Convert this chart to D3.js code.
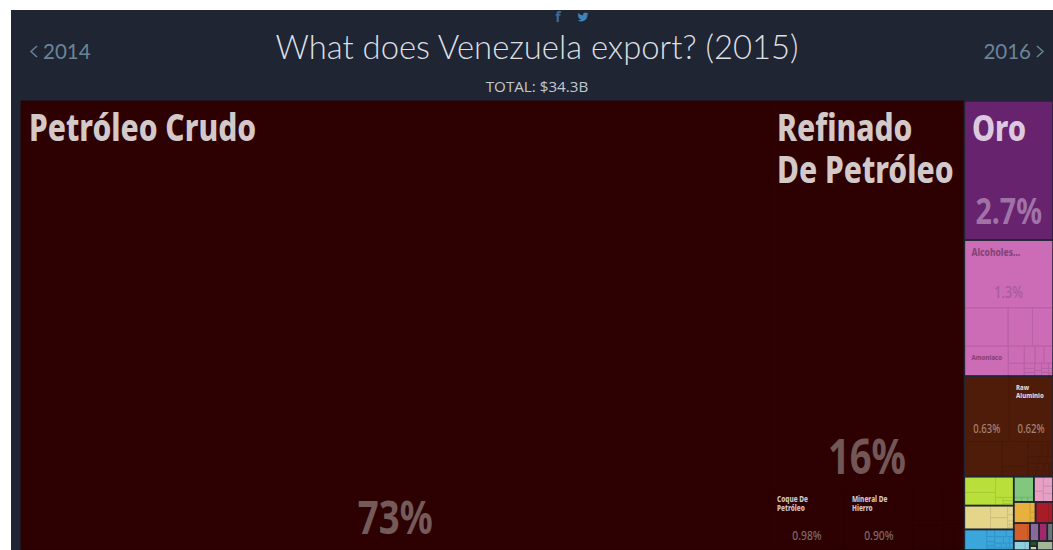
<!DOCTYPE html>
<html>
<head>
<meta charset="utf-8">
<title>What does Venezuela export? (2015)</title>
<script src="https://cdn.jsdelivr.net/npm/d3@7"></script>
<style>
  html, body { margin: 0; padding: 0; background: #fff; overflow: hidden; }
  svg { display: block; }
</style>
</head>
<body>
<svg id="chart" width="1053" height="550"></svg>
<script>
// Share of total exports, percent, one small list per product family.
const crudeShare = 72.6;
const refinedShare = 16.35;
const coalRow = [0.98, 0.90];
const coalRest = [[0.23, 0.16], [0.16, [0.06, 0.06]]];
const goldShare = 2.66;
const chemTop = 1.3;
const chemRow = [0.36, 0.20, 0.17];
const ammonia = 0.285;
const chemSmallTop = [0.059, 0.04, 0.033, 0.033];
const chemSmallLeft = 0.045;
const chemGrid = [[0.012, 0.010, 0.008], [0.011, 0.008], [0.008, 0.006, 0.006], [0.005, 0.004, 0.003]];
const metalTop = [0.63, 0.62];
const metalLeft = 0.287;
const metalMid = [0.14, 0.056];
const metalSmall = [0.045, 0.019, 0.016];
const metalGrid = [[0.016, 0.012, 0.009], [0.014, 0.010, 0.008, 0.006], [0.010, 0.008, 0.006, 0.005, 0.004]];
const limeLeft = [0.107, 0.087];
const limeRight = 0.082;
const limeTiny = [0.0136, [0.008, 0.006, 0.005]];
const khakiLeft = 0.135;
const khakiMid = [0.045, 0.043];
const khakiTiny = [0.012, 0.008, 0.005, 0.003, 0.003];
const blueLeft = 0.10;
const blueStack = [0.012, 0.009, 0.007, 0.004, 0.003];
const blueGrid = [[0.018, 0.012], [0.012, 0.008, 0.006], [0.007, 0.005, 0.004, 0.004], [0.002, 0.002, 0.002, 0.002]];
const greenParts = [0.09, [0.008, 0.006, 0.006]];
const pinkParts = [[0.03, 0.022], [0.02, 0.015, 0.018]];
const orangeParts = [0.075, [0.012, 0.007, 0.004, 0.002]];
const redParts = [0.06, 0.02];
const rustParts = [0.055, 0.008];
const smallRow = [0.035, 0.032, 0.022];
const paleParts = [0.022, 0.009];
const tinyStack = [0.008, 0.006];
const sageShare = 0.031;

const productNames = {
  crude: "Petróleo Crudo", refined: "Refinado De Petróleo", coke: "Coque De Petróleo",
  iron: "Mineral De Hierro", gold: "Oro", alcohols: "Alcoholes...", ammonia: "Amoniaco",
  rawAl: "Raw Aluminio"
};

const colors = {
  oil: "#2d0102", gold: "#67236e", chem: "#cc6cb6", metal: "#501c0a", lime: "#b9e03a",
  khaki: "#e5d58b", blue: "#3aa6dc", green: "#82c77e", pink: "#e6a0c4", orange: "#e8b03c",
  red: "#a81c28", rust: "#d25f2a", purple: "#8a6a9a", magenta: "#a3286a", grey: "#6d7478",
  pale: "#8fd0dc", forest: "#1c5a1c", beige: "#d8d0a0", sage: "#a3b796"
};

// Tree helpers: H lays children left to right, V top to bottom; nested lists alternate.
const wrap = (d, dir) => typeof d === "number" ? { value: d }
  : Array.isArray(d) ? { dir, children: d.map(k => wrap(k, dir === "h" ? "v" : "h")) } : d;
const H = (...kids) => ({ dir: "h", children: kids.map(k => wrap(k, "v")) });
const V = (...kids) => ({ dir: "v", children: kids.map(k => wrap(k, "h")) });
const P = (name, value) => ({ name, value });
const C = (color, node) => Object.assign(typeof node === "number" ? { value: node } : node, { color });

const tree = H(
  C(colors.oil, P("crude", crudeShare)),
  Object.assign(V(
    P("refined", refinedShare),
    H(P("coke", coalRow[0]), P("iron", coalRow[1]), H(V(...coalRest[0]), V(coalRest[1][0], H(...coalRest[1][1]))))
  ), { color: colors.oil, quiet: true }),
  V(
    C(colors.gold, H(P("gold", goldShare))),
    C(colors.chem, V(
      P("alcohols", chemTop),
      H(...chemRow),
      H(P("ammonia", ammonia), V(H(...chemSmallTop), H(chemSmallLeft, H(...chemGrid.map(c => V(...c))))))
    )),
    C(colors.metal, V(
      H(metalTop[0], P("rawAl", metalTop[1])),
      H(metalLeft, V(...metalMid), V(H(...metalSmall), V(...metalGrid.map(r => H(...r)))))
    )),
    H(
      V(
        C(colors.lime, H(V(...limeLeft), V(limeRight, H(limeTiny[0], V(...limeTiny[1]))))),
        C(colors.khaki, H(khakiLeft, V(...khakiMid), V(...khakiTiny))),
        C(colors.blue, H(blueLeft, V(...blueStack), V(...blueGrid.map(r => H(...r)))))
      ),
      V(
        H(C(colors.green, V(greenParts[0], H(...greenParts[1]))), C(colors.pink, H(V(...pinkParts[0]), V(...pinkParts[1])))),
        H(C(colors.orange, H(orangeParts[0], V(...orangeParts[1]))), C(colors.red, H(...redParts))),
        H(C(colors.rust, H(...rustParts)), C(colors.purple, smallRow[0]), C(colors.magenta, smallRow[1]), C(colors.grey, smallRow[2])),
        H(C(colors.pale, H(...paleParts)), V(C(colors.forest, tinyStack[0]), C(colors.beige, tinyStack[1])), C(colors.sage, sageShare))
      )
    )
  )
);

const svg = d3.select("#chart");
const NAVY = "#1f2533";
const MAP = { x: 21, y: 101, w: 1032, h: 449 };

// Page band behind the heading
svg.append("rect").attr("x", 11).attr("y", 10).attr("width", 1042).attr("height", 540).attr("fill", NAVY);

const root = d3.hierarchy(tree).sum(d => d.children ? 0 : d.value);
d3.treemap()
  .size([MAP.w, MAP.h])
  .tile((n, x0, y0, x1, y1) => (n.data.dir === "v" ? d3.treemapSlice : d3.treemapDice)(n, x0, y0, x1, y1))(root);

const colorOf = n => { for (let a = n; a; a = a.parent) if (a.data.color) return a.data.color; return colors.oil; };
const map = svg.append("g").attr("transform", `translate(${MAP.x},${MAP.y})`);

// Cell edges are an opaque shade of their own fill
map.selectAll("rect.cell").data(root.leaves()).join("rect")
  .attr("class", "cell")
  .attr("x", d => d.x0).attr("y", d => d.y0)
  .attr("width", d => d.x1 - d.x0).attr("height", d => d.y1 - d.y0)
  .attr("fill", colorOf)
  .attr("stroke", d => d3.interpolateRgb(colorOf(d), "#000")(0.1)).attr("stroke-width", 0.8);

// Family outlines separate the coloured blocks
const families = root.descendants().filter(d => d.data.color && !d.data.quiet && d.data.color !== colors.oil);
map.selectAll("rect.family").data(families).join("rect")
  .attr("class", "family")
  .attr("x", d => d.x0).attr("y", d => d.y0)
  .attr("width", d => d.x1 - d.x0).attr("height", d => d.y1 - d.y0)
  .attr("fill", "none").attr("stroke", NAVY).attr("stroke-width", 1.5);

// Label styles per product: name size, share size and where they sit in the cell
const labelStyle = {
  crude:    { size: 37, lh: 42, dx: 8, dy: 40, pct: 46, pb: 16, col: "#d2c9c8", pcol: "#755a5a" },
  refined:  { size: 37, lh: 42, dx: 7.5, dy: 40, pct: 48, pb: 15, lines: ["Refinado", "De Petróleo"], col: "#d2c9c8", pcol: "#735757" },
  coke:     { size: 8, lh: 9, dx: 7.5, dy: 13, pct: 13, pb: 10, lines: ["Coque De", "Petróleo"], col: "#d0c6c6", pcol: "#806868", pw: 500 },
  iron:     { size: 8, lh: 9, dx: 7.5, dy: 13, pct: 13, pb: 10, lines: ["Mineral De", "Hierro"], col: "#d0c6c6", pcol: "#806868", pw: 500 },
  gold:     { size: 36, lh: 42, dx: 7.5, dy: 40, pct: 36, pb: 16, col: "#dcc9e0", pcol: "#a072a8" },
  alcohols: { size: 10.5, lh: 11, dx: 7, dy: 16, pct: 16, pb: 10, col: "#844478", pcol: "#a85a9c", pw: 500 },
  ammonia:  { size: 7.5, lh: 8, dx: 7, dy: 14, col: "#844478" },
  rawAl:    { size: 7.5, lh: 8, dx: 7, dy: 14, pct: 12, pb: 9, lines: ["Raw", "Aluminio"], col: "#e6d6ce", pcol: "#a38173", pw: 500 }
};
const metalPctStyle = { pct: 12, pb: 9, pcol: "#a38173", pw: 500 };
const shareFormat = d3.format(".2r");
const FACE = "'Noto Sans', sans-serif";

// Names are heavy and condensed; horizontal scaling narrows the face
function condensed(sel, x, y, size, text, fill) {
  sel.append("text")
    .attr("transform", `translate(${x},${y}) scale(0.81,1)`)
    .attr("font-family", FACE).attr("font-weight", 800)
    .attr("font-size", size).attr("fill", fill).text(text);
}
function centred(sel, cx, y, size, text, fill, weight) {
  sel.append("text")
    .attr("font-family", FACE).attr("font-weight", weight || 700)
    .attr("font-size", size).attr("fill", fill).attr("text-anchor", "middle")
    .attr("transform", `translate(${cx},${y}) scale(0.795,1)`).text(text);
}

root.leaves().forEach(d => {
  const s = labelStyle[d.data.name];
  if (s) {
    const lines = s.lines || [productNames[d.data.name]];
    lines.forEach((line, i) => condensed(map, d.x0 + s.dx, d.y0 + s.dy + i * s.lh, s.size, line, s.col));
    if (s.pct) centred(map, (d.x0 + d.x1) / 2, d.y1 - s.pb, s.pct, shareFormat(d.data.value) + "%", s.pcol, s.pw);
  }
});
// The neighbouring unnamed metal cell also carries its share
const metalLeaf = root.leaves().find(d => d.data.value === metalTop[0]);
centred(map, (metalLeaf.x0 + metalLeaf.x1) / 2, metalLeaf.y1 - metalPctStyle.pb, metalPctStyle.pct, shareFormat(metalTop[0]) + "%", metalPctStyle.pcol, metalPctStyle.pw);

// Heading
const head = svg.append("g");
head.append("text").attr("x", 537).attr("y", 59).attr("text-anchor", "middle")
  .attr("font-family", "Lato, sans-serif").attr("font-weight", 300).attr("font-size", 32.8)
  .attr("fill", "#dcdfe3").text("What does Venezuela export? (2015)");
head.append("text").attr("x", 537).attr("y", 92).attr("text-anchor", "middle")
  .attr("font-family", "'Open Sans', sans-serif").attr("font-size", 15.2)
  .attr("fill", "#c4c8cd").text("TOTAL: $34.3B");

const NAV = "#6b8497";
head.append("text").attr("x", 43).attr("y", 59).attr("font-family", "Lato, sans-serif").attr("font-weight", 400)
  .attr("font-size", 20.5).attr("fill", NAV).text("2014");
head.append("text").attr("x", 1031).attr("y", 59).attr("text-anchor", "end").attr("font-family", "Lato, sans-serif").attr("font-weight", 400)
  .attr("font-size", 20.5).attr("fill", NAV).text("2016");
head.append("path").attr("d", "M37,46 L31,51.5 L37,57").attr("fill", "none").attr("stroke", NAV).attr("stroke-width", 1.5);
head.append("path").attr("d", "M1037,46 L1043,51.5 L1037,57").attr("fill", "none").attr("stroke", NAV).attr("stroke-width", 1.5);

// Share links
head.append("text").attr("x", 558).attr("y", 22).attr("text-anchor", "middle")
  .attr("font-family", FACE).attr("font-weight", 700).attr("font-size", 14).attr("fill", "#3c6c9c").text("f");
head.append("path")
  .attr("transform", "translate(577,11) scale(0.5)")
  .attr("d", "M23 3a10.9 10.9 0 0 1-3 1.53 4.48 4.48 0 0 0-7.86 3v1A10.66 10.66 0 0 1 3 4s-4 9 5 13a11.64 11.64 0 0 1-7 2c9 5 20 0 20-11.5a4.5 4.5 0 0 0-.08-.83A7.72 7.72 0 0 0 23 3z")
  .attr("fill", "#3f84b8");
</script>
</body>
</html>
